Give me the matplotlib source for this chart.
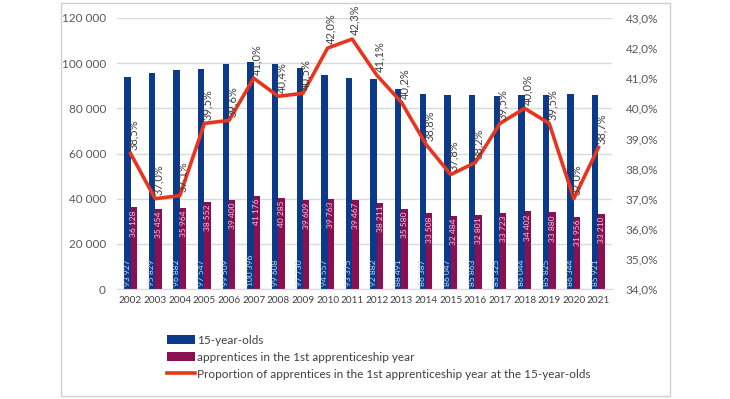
import matplotlib
matplotlib.use("Agg")
import matplotlib.pyplot as plt
from matplotlib.patches import Rectangle
import numpy as np

years = [str(y) for y in range(2002, 2022)]
fifteen = [93927, 95829, 96882, 97547, 99509, 100396, 99608, 97730, 94557, 93375,
           92882, 88491, 86387, 86047, 85863, 85325, 86044, 85825, 86344, 85921]
apprentices = [36128, 35454, 35964, 38552, 39400, 41176, 40285, 39609, 39763, 39467,
               38211, 35580, 33508, 32484, 32801, 33723, 34402, 33880, 31956, 33210]
proportion = [38.5, 37.0, 37.1, 39.5, 39.6, 41.0, 40.4, 40.5, 42.0, 42.3,
              41.1, 40.2, 38.8, 37.8, 38.2, 39.5, 40.0, 39.5, 37.0, 38.7]

plt.rcParams['font.family'] = ['Lato', 'DejaVu Sans']

fig = plt.figure(figsize=(7.3, 3.99), dpi=100)
ax = fig.add_axes([117/730, 1-289/399, (612-117)/730, (289-18)/399])
ax2 = ax.twinx()

blue = '#0B3A8A'
purple = '#8C0F52'
red = '#E8351E'
grid = '#D9D9D9'
txt = '#595959'

x = np.arange(len(years))
w = 0.26
b1 = ax.bar(x - w/2, fifteen, w, color=blue, label='15-year-olds', zorder=2)
b2 = ax.bar(x + w/2, apprentices, w, color=purple,
            label='apprentices in the 1st apprenticeship year', zorder=2)

def fmt(v):
    return f"{v:,}".replace(',', ' ')

for xi, v in zip(x, fifteen):
    ax.text(xi - w/2, 1200, fmt(v), rotation=90, ha='center', va='bottom',
            fontsize=6, color='#C8D8F0', zorder=3)
for xi, v in zip(x, apprentices):
    ax.text(xi + w/2, v - 1200, fmt(v), rotation=90, ha='center', va='top',
            fontsize=6, color='#F3C9DD', zorder=3)

ax.set_ylim(0, 120000)
ax.set_yticks(range(0, 120001, 20000))
ax.set_yticklabels([fmt(v) for v in range(0, 120001, 20000)])
ax.set_xlim(-0.55, len(years) - 0.45)
ax.set_xticks(x)
ax.set_xticklabels(years)
ax.yaxis.grid(True, color=grid, linewidth=1, zorder=0)
ax.set_axisbelow(True)

line, = ax2.plot(x, proportion, color=red, linewidth=2.6, zorder=4,
                 label='Proportion of apprentices in the 1st apprenticeship year at the 15-year-olds')
for xi, p in zip(x, proportion):
    ax2.text(xi + 0.12, p + 0.12, f"{p:.1f}%".replace('.', ','), rotation=90,
             ha='center', va='bottom', fontsize=8, color='#404040', zorder=5)
ax2.set_ylim(34, 43)
ax2.set_yticks(np.arange(34, 43.01, 1))
ax2.set_yticklabels([f"{v:.1f}%".replace('.', ',') for v in np.arange(34, 43.01, 1)])

for a in (ax, ax2):
    for s in a.spines.values():
        s.set_visible(False)
    a.tick_params(length=0, labelsize=8.5, colors=txt)
ax.spines['bottom'].set_visible(True)
ax.spines['bottom'].set_color(grid)
ax.tick_params(axis='x', labelsize=7.2, colors='#404040', pad=5)
ax.tick_params(axis='y', pad=8)
ax2.tick_params(axis='y', pad=10)

fig.legend(handles=[b1, b2, line], loc='upper left',
           bbox_to_anchor=(162/730, 1-330/399), frameon=False, fontsize=8.5,
           labelcolor='#404040', handlelength=2.4, handletextpad=0.2,
           labelspacing=0.5, borderaxespad=0)

fig.patches.append(Rectangle((61/730, 3/399), (670-61)/730, (396-3)/399,
                             transform=fig.transFigure, fill=False,
                             edgecolor='#D0D0D0', linewidth=1))

fig.savefig('out.png', dpi=100)
